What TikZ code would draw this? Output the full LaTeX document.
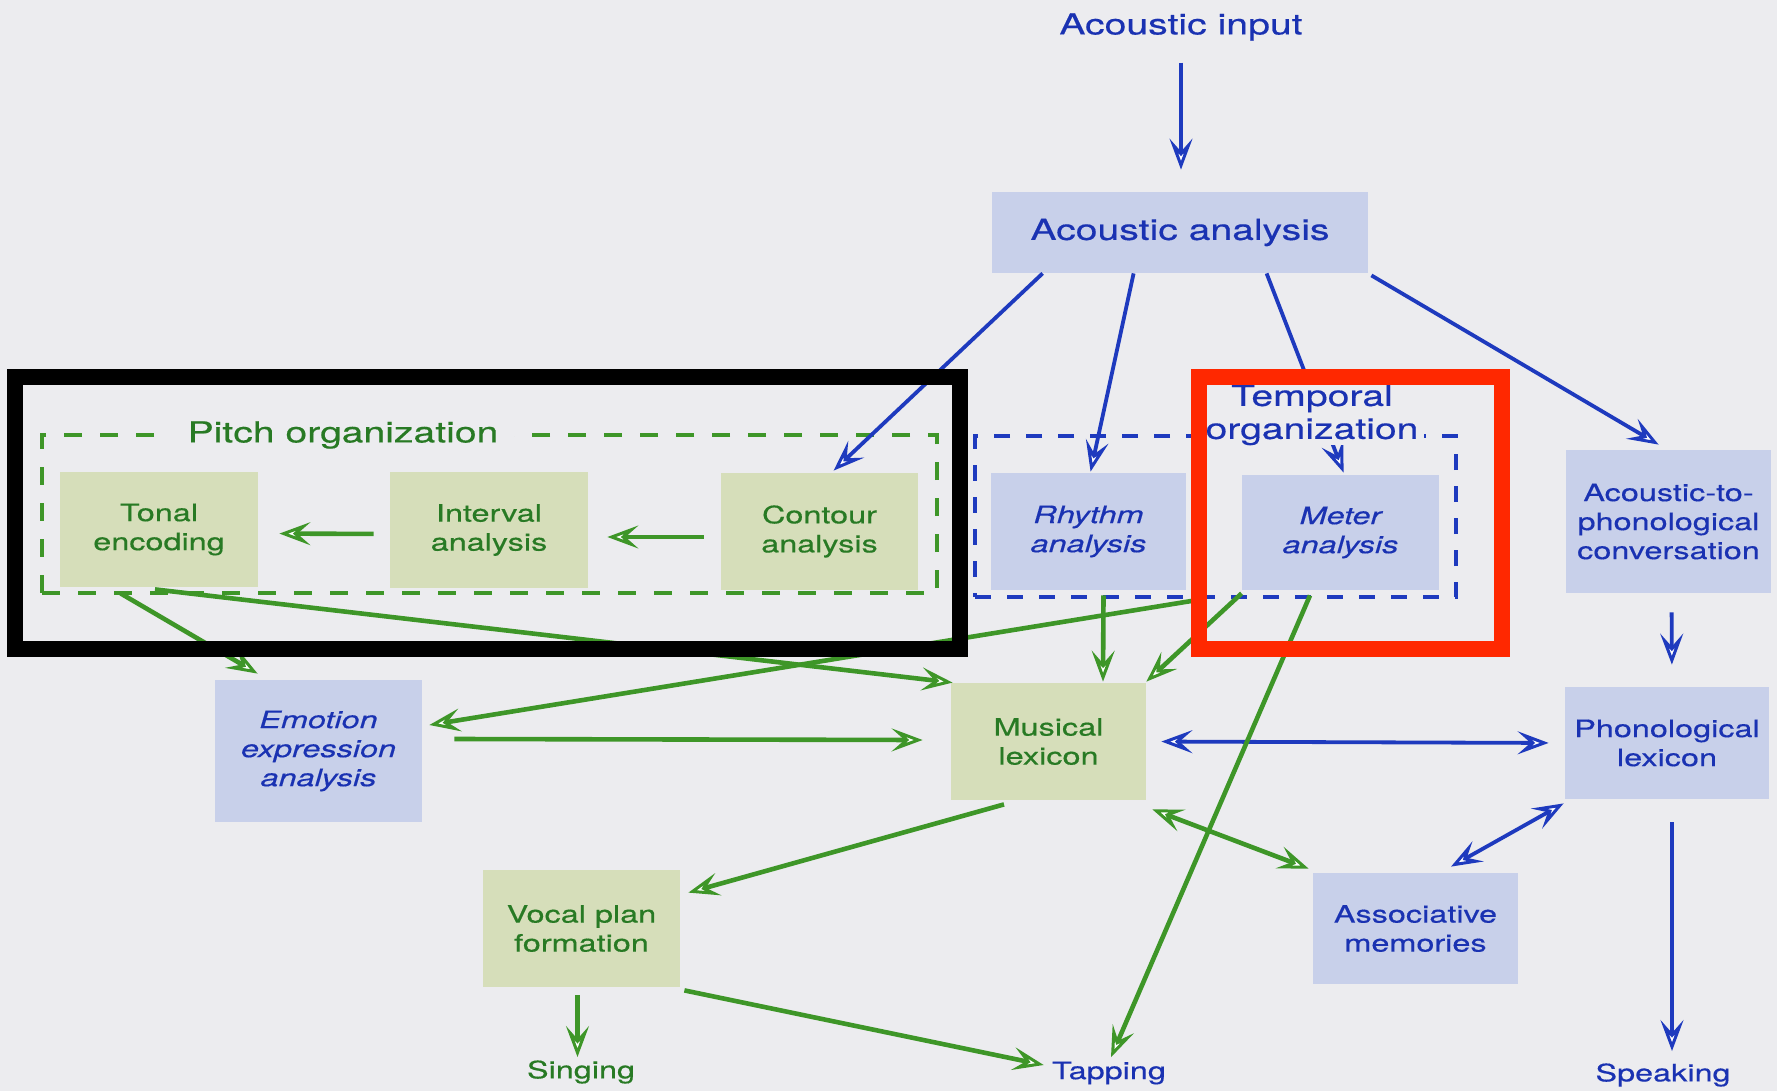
\documentclass[tikz,border=0pt]{standalone}
\usepackage{fontspec}
\setmainfont{TeX Gyre Heros}[FakeStretch=1.35,FakeBold=0.4]
\usetikzlibrary{arrows.meta,calc}
\definecolor{bg}{RGB}{236,236,239}
\definecolor{bline}{RGB}{30,58,190}
\definecolor{btext}{RGB}{26,50,178}
\definecolor{gline}{RGB}{62,150,40}
\definecolor{gtext}{RGB}{40,122,36}
\definecolor{bfill}{RGB}{200,208,234}
\definecolor{gfill}{RGB}{214,222,186}
\definecolor{redf}{RGB}{255,40,0}
\newcommand\myfont{\fontsize{12}{14.5}\selectfont}
\newcommand\mytitle{\fontsize{14.5}{16.5}\selectfont}
\tikzset{
  box/.style={rectangle, inner sep=0pt, align=center, font=\myfont},
  bbox/.style={box, fill=bfill, text=btext},
  gbox/.style={box, fill=gfill, text=gtext},
  lbl/.style={inner sep=0pt, align=center, font=\myfont},
  barr/.style={draw=bline, line width=1.9pt, ->},
  garr/.style={draw=gline, line width=2.3pt, ->},
  gdash/.style={draw=gline, line width=2.1pt, dash pattern=on 9pt off 9pt, inner sep=0pt},
  bdash/.style={draw=bline, line width=1.9pt, dash pattern=on 8pt off 8pt, inner sep=0pt},
  >={Stealth[length=15.5pt,width=11.5pt,inset=6.5pt,fill=white,line width=1.5pt]}
}
\begin{document}
\begin{tikzpicture}[x=0.5pt,y=-0.5pt]
\useasboundingbox (0,0) rectangle (1777,1091);
\fill[bg] (0,0) rectangle (1777,1091);

% dashed group frames
\node[gdash, minimum width=447.5pt, minimum height=79pt] (pitch) at (489.5,514) {};
\node[bdash, minimum width=240.5pt, minimum height=80.5pt] (temporal) at (1215.5,516.5) {};

% nodes
\node[lbl, font=\mytitle, text=btext] (ain) at (1181,27) {Acoustic input};
\node[bbox, font=\mytitle, minimum width=188pt, minimum height=40.5pt] (aa) at (1180,232.5) {Acoustic analysis};
\node[gbox, minimum width=99pt, minimum height=57.5pt] (tonal) at (159,529.5) {Tonal\\encoding};
\node[gbox, minimum width=99pt, minimum height=58pt] (interval) at (489,530) {Interval\\analysis};
\node[gbox, minimum width=98.5pt, minimum height=58.5pt] (contour) at (819.5,531.5) {Contour\\analysis};
\node[bbox, font=\myfont\itshape, minimum width=97.5pt, minimum height=58.5pt] (rhythm) at (1088.5,531.5) {Rhythm\\analysis};
\node[bbox, font=\myfont\itshape, minimum width=98.5pt, minimum height=57.5pt] (meter) at (1340.5,532.5) {Meter\\analysis};
\node[bbox, minimum width=102.5pt, minimum height=71.5pt] (atp) at (1668.5,521.5) {Acoustic-to-\\phonological\\conversation};
\node[bbox, minimum width=102pt, minimum height=56pt] (phon) at (1667,743) {Phonological\\lexicon};
\node[gbox, minimum width=97.5pt, minimum height=58.5pt] (musical) at (1048.5,741.5) {Musical\\lexicon};
\node[bbox, font=\myfont\itshape, minimum width=103.5pt, minimum height=71pt] (emotion) at (318.5,751) {Emotion\\expression\\analysis};
\node[gbox, minimum width=98.5pt, minimum height=58.5pt] (vocal) at (581.5,928.5) {Vocal plan\\formation};
\node[bbox, minimum width=102.5pt, minimum height=55.5pt] (assoc) at (1415.5,928.5) {Associative\\memories};
\node[lbl, text=gtext] (singing) at (581,1072) {Singing};
\node[lbl, text=btext] (tapping) at (1109,1073) {Tapping};
\node[lbl, text=btext] (speak) at (1663,1075) {Speaking};

% blue connectors
\draw[barr, shorten <=10.75pt, shorten >=11pt] (ain.south) -- (ain.south |- aa.north);
\draw[barr] ([xshift=25.5pt]aa.south west) -- ([xshift=56.5pt,yshift=1pt]contour.north west);
\draw[barr] ([xshift=71pt]aa.south west) -- ([xshift=50pt,yshift=0.5pt]rhythm.north west);
\draw[barr] ([xshift=137.5pt]aa.south west) -- ([xshift=51pt,yshift=1pt]meter.north west);
\draw[barr] ([xshift=1.5pt,yshift=-1pt]aa.south east) -- ([xshift=46.5pt,yshift=2.5pt]atp.north west);
\draw[barr, shorten <=9.5pt, shorten >=11pt] ([xshift=1.5pt]atp.south) -- ([xshift=2.5pt]phon.north);
\draw[barr, <->, shorten <=7.5pt, shorten >=8pt] (musical.east) -- (phon.west);
\draw[barr, <->] ([xshift=-0.5pt,yshift=-2pt]phon.south west) -- ([xshift=17.75pt,yshift=3pt]assoc.north);
\draw[barr, shorten <=11.5pt, shorten >=6pt] ([xshift=2.5pt]phon.south) -- ([xshift=2.5pt]phon.south |- speak.north);

% green connectors
\draw[garr, shorten <=8pt, shorten >=10.5pt] ([yshift=-2pt]interval.west) -- ([yshift=-2pt]tonal.east);
\draw[garr, shorten <=8.5pt, shorten >=9.5pt] ([yshift=-2.75pt]contour.west) -- ([yshift=-3.5pt]interval.east);
\draw[garr] ([xshift=30.5pt,yshift=-3pt]tonal.south west) -- ([xshift=21.5pt,yshift=3pt]emotion.north west);
\draw[garr] ([xshift=-2pt,yshift=-1pt]tonal.south) -- ([xshift=1pt]musical.north west);
\draw[garr] ([xshift=112.5pt,yshift=-0.5pt]temporal.south west) -- ([xshift=3.5pt,yshift=13pt]emotion.east);
\draw[garr] ([xshift=16pt,yshift=6pt]emotion.east) -- ([xshift=-14pt,yshift=0.75pt]musical.west);
\draw[garr] ([xshift=7.5pt,yshift=-2.5pt]rhythm.south) -- ([xshift=27.25pt,yshift=0.5pt]musical.north);
\draw[garr] ([yshift=-1.5pt]meter.south west) -- ([yshift=0.5pt]musical.north east);
\draw[garr] ([xshift=-15.25pt,yshift=-2.5pt]meter.south) -- ([xshift=1pt,yshift=2pt]tapping.north);
\draw[garr] ([xshift=-22.25pt,yshift=-2pt]musical.south) -- ([xshift=4pt,yshift=-11.5pt]vocal.north east);
\draw[garr, <->] ([xshift=3pt,yshift=-4.5pt]musical.south east) -- ([xshift=-2pt,yshift=2pt]assoc.north west);
\draw[garr, shorten <=4pt, shorten >=1.5pt] ([xshift=-2pt]vocal.south) -- ([xshift=-2pt]vocal.south |- singing.north);
\draw[garr] ([xshift=2pt,yshift=-1.5pt]vocal.south east) -- ([xshift=-4pt,yshift=4pt]tapping.west);

% group labels
\node[fill=bg, text=gtext, font=\mytitle, inner xsep=8pt, inner ysep=1pt] (pitchlbl) at (343,435) {Pitch organization};
\node[fill=bg, text=btext, font=\mytitle, align=center, inner xsep=3pt, inner ysep=0pt] (templbl) at (1312,415) {Temporal\\organization};

% highlight frames
\draw[black, line width=8pt] (15,377) rectangle (960,649);
\draw[redf, line width=8pt] (1199,377) rectangle (1502,649);
\end{tikzpicture}
\end{document}
